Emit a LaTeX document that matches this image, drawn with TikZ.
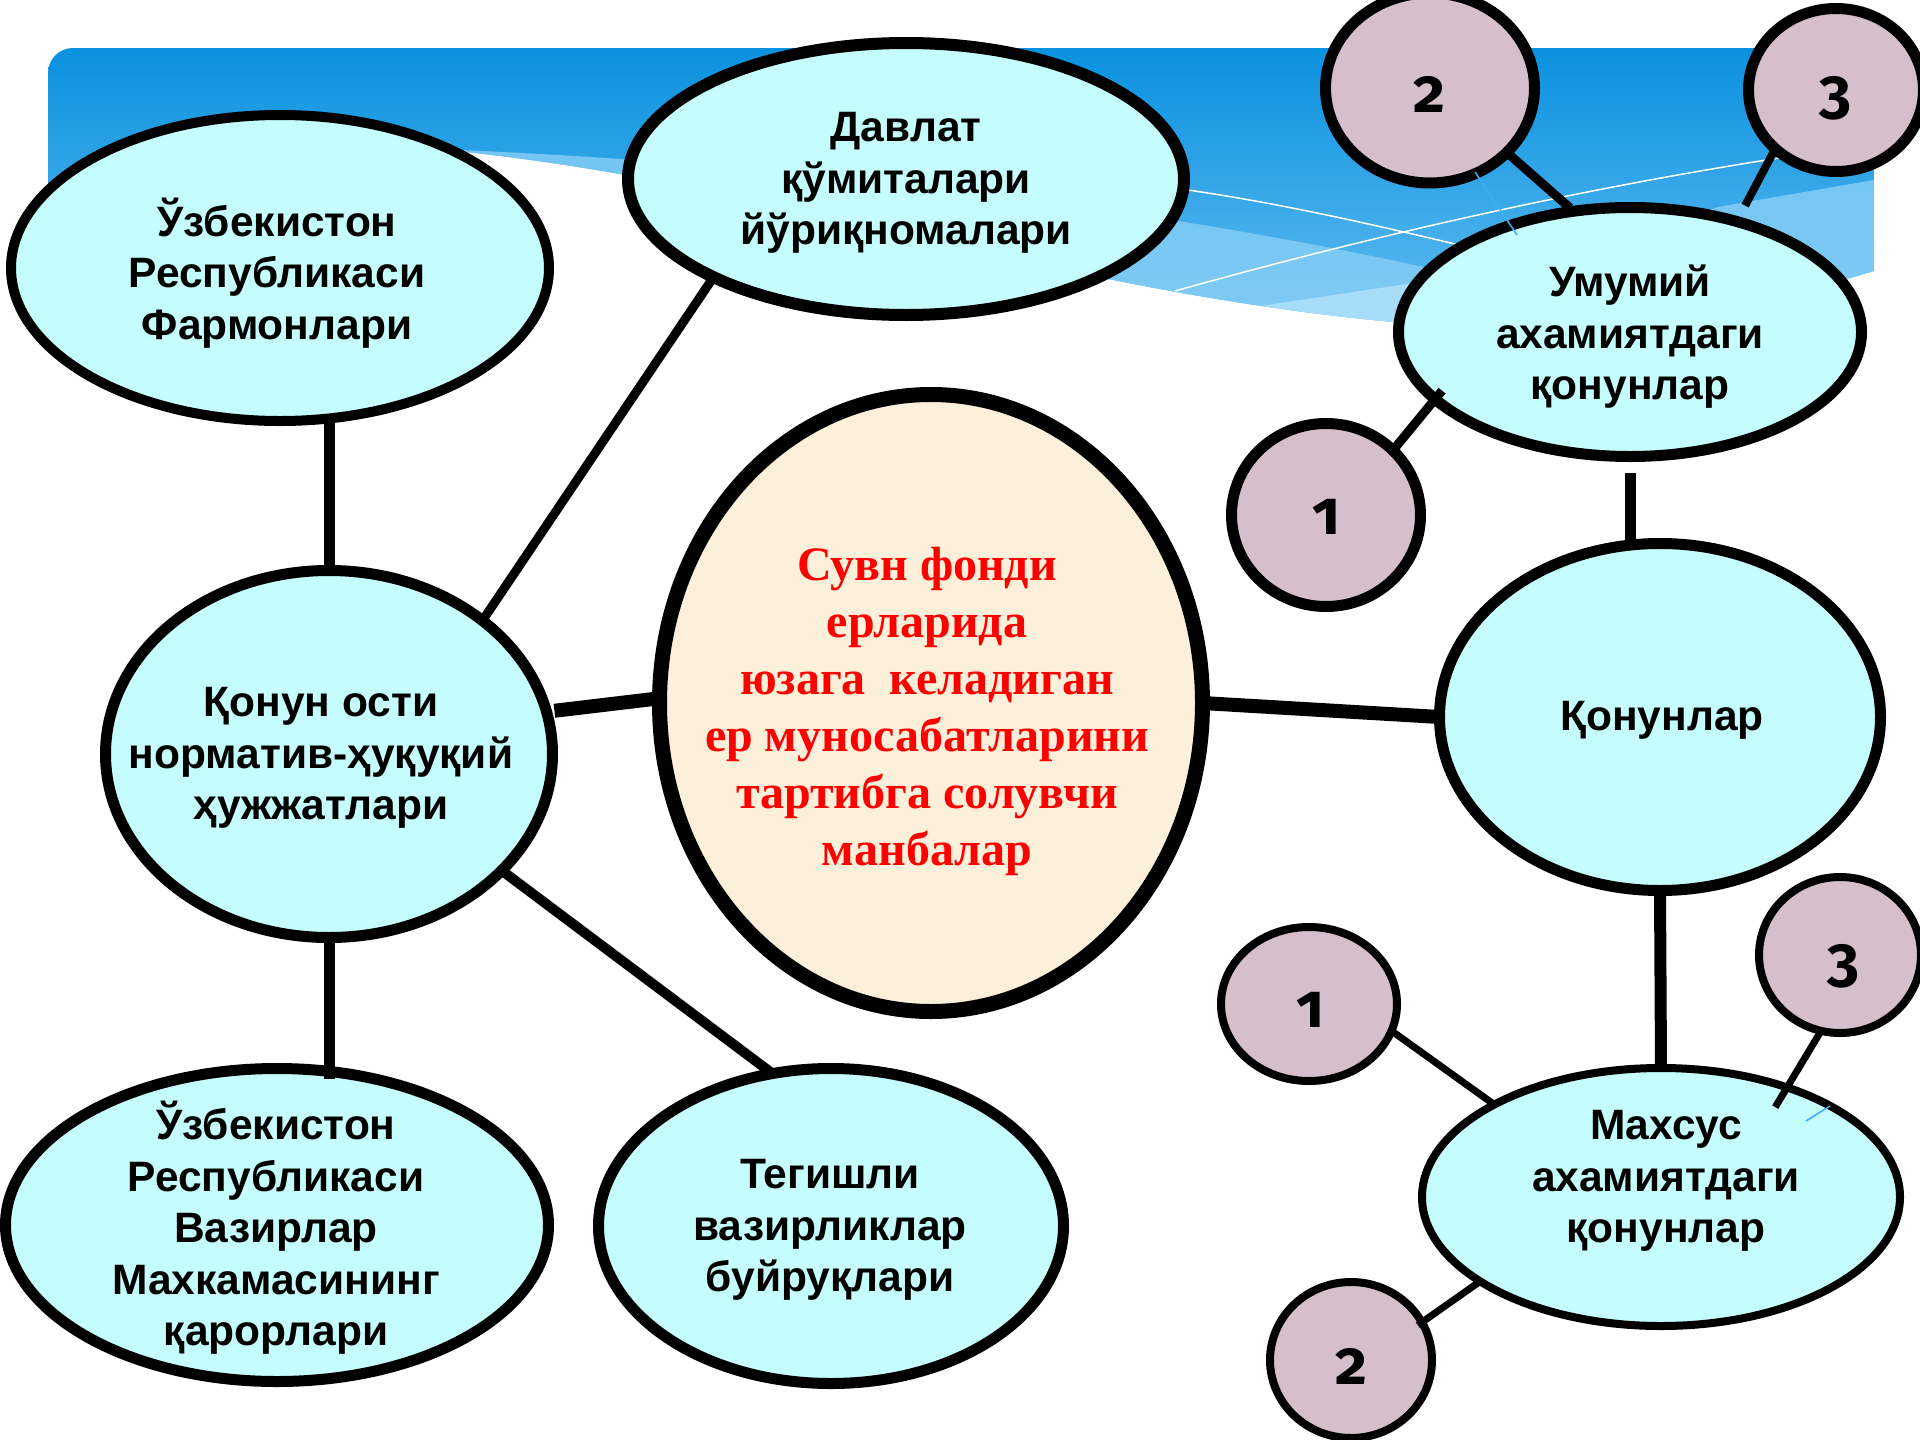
\documentclass[tikz,border=0pt]{standalone}
\usepackage{fontspec}
\usetikzlibrary{shapes.geometric,calc}
\newfontfamily\lsans{Liberation Sans}
\newfontfamily\lserif{Liberation Serif}
\newfontfamily\numfont[Numbers=OldStyle]{Fira Sans}
\definecolor{cyanfill}{RGB}{197,253,253}
\definecolor{mauve}{RGB}{213,191,202}
\definecolor{cream}{RGB}{253,240,218}
\definecolor{skytop}{RGB}{8,144,222}
\definecolor{skybot}{RGB}{100,190,242}
\definecolor{skyband}{RGB}{135,206,246}
\definecolor{skylight}{RGB}{168,221,249}
\definecolor{skyline}{RGB}{60,175,240}
\begin{document}
\begin{tikzpicture}[x=1pt,y=-1pt,
  bub/.style={shape=ellipse, draw=black, fill=cyanfill, inner sep=0pt, outer sep=0pt},
  numc/.style={shape=ellipse, draw=black, fill=mauve, inner sep=0pt, outer sep=0pt},
  hub/.style={shape=ellipse, draw=black, fill=cream, inner sep=0pt, outer sep=0pt},
  txt/.style={font=\lsans\bfseries\fontsize{42.5}{51.5}\selectfont, align=center, inner sep=0pt},
  ctxt/.style={font=\lserif\bfseries\fontsize{48}{57}\selectfont, text=red, align=center, inner sep=0pt},
  numtxt/.style={font=\numfont\bfseries\fontsize{62}{62}\selectfont, inner sep=0pt},
  conn/.style={draw=black, line cap=butt},
]
\useasboundingbox (0,0) rectangle (1920,1440);
\clip (0,0) rectangle (1920,1440);

% background banner
\begin{scope}
\clip (48,200) [rounded corners=25pt] -- (48,48) -- (1874,48) -- (1874,150) [sharp corners] -- (1874,271)
  .. controls (1780,300) and (1620,335) .. (1393,322)
  .. controls (1050,290) and (800,190) .. (475,153)
  .. controls (300,135) and (120,170) .. (48,240) -- cycle;
\path[top color=skytop, bottom color=skybot] (0,40) rectangle (1920,340);
\fill[skyband, opacity=0.8] (460,150) .. controls (800,165) and (1150,205) .. (1460,275)
  .. controls (1560,298) and (1640,225) .. (1723,206) -- (1874,180) -- (1920,180) -- (1920,400) -- (460,400) -- cycle;
\fill[skylight] (1240,309) -- (1420,282) -- (1480,272) -- (1480,400) -- (1240,400) -- cycle;
\draw[white, line width=1.5pt] (1150,185) .. controls (1260,198) and (1380,226) .. (1480,250);
\draw[white, line width=1.5pt] (1175,291) .. controls (1400,228) and (1600,186) .. (1779,158);
\end{scope}

% nodes
\node[bub, line width=10pt, minimum width=538pt, minimum height=306pt] (farm) at (280,268) {};
\node[bub, line width=12pt, minimum width=556pt, minimum height=272pt] (davlat) at (906,179) {};
\node[bub, line width=11pt, minimum width=463pt, minimum height=249pt] (umum) at (1630,332) {};
\node[bub, line width=11pt, minimum width=441pt, minimum height=347pt] (qonunlar) at (1660,717) {};
\node[bub, line width=8pt, minimum width=478pt, minimum height=258pt] (mahsus) at (1661,1197) {};
\node[bub, line width=11pt, minimum width=447pt, minimum height=367pt] (konun) at (329,754) {};
\node[bub, line width=11pt, minimum width=543pt, minimum height=313pt] (vazir) at (277,1225) {};
\node[bub, line width=11pt, minimum width=465pt, minimum height=315pt] (tegish) at (831,1226) {};
\node[hub, line width=15pt, minimum width=543pt, minimum height=617pt] (sv) at (931,703) {};

\node[numc, line width=11pt, minimum width=209pt, minimum height=190pt] (c2t) at (1430,88) {};
\node[numc, line width=11pt, minimum width=175pt, minimum height=163pt] (c3t) at (1836,90) {};
\node[numc, line width=11pt, minimum width=189pt, minimum height=183pt] (c1t) at (1326,515) {};
\node[numc, line width=8pt, minimum width=176pt, minimum height=154pt] (c1b) at (1309,1004) {};
\node[numc, line width=8pt, minimum width=162pt, minimum height=156pt] (c3b) at (1840,955) {};
\node[numc, line width=8pt, minimum width=162pt, minimum height=156pt] (c2b) at (1351,1360) {};

% connectors
\draw[conn, line width=11pt] (konun.north) -- (konun.north |- farm.south);
\draw[conn, line width=9pt] (davlat.207) -- (konun.41);
\draw[conn, line width=14pt, shorten <=8pt] (konun.11) -- (sv.179);
\draw[conn, line width=14pt] (sv.0) -- (qonunlar.180);
\draw[conn, line width=10pt] (konun.326) -- (tegish.111);
\draw[conn, line width=11pt, shorten >=-10pt] (konun.south) -- (konun.south |- vazir.north);
\draw[conn, line width=11pt, shorten <=16pt] (umum.south) -- (umum.south |- qonunlar.north);
\draw[conn, line width=12pt] (qonunlar.south) -- (mahsus.north);
\draw[conn, line width=9pt, shorten >=5pt] (c2t.320) -- (umum.115);
\draw[conn, line width=8pt, shorten >=18pt] (c3t.224) -- (umum.46);
\draw[conn, line width=9pt, shorten >=-11pt] (c1t.44) -- (umum.199);
\draw[conn, line width=7pt] (c1b.342) -- (mahsus.151);
\draw[conn, line width=7pt, shorten >=-23pt] (c3b.256) -- (mahsus.41);
\draw[conn, line width=7pt, shorten <=-5pt] (c2b.28) -- (mahsus.205);

% small blue artefacts
\draw[skyline, line width=1.5pt] (1475,172) -- (1517,235);
\draw[skyline, line width=1.5pt] (1806,1121) -- (1830,1106);

% texts
\node[txt] (tfarm) at (277,273) {Ўзбекистон\\Республикаси\\Фармонлари};
\node[txt] (tdavlat) at (906,183) {Давлат\\қўмиталари\\йўриқномалари};
\node[txt] (tumum) at (1630,337) {Умумий\\ахамиятдаги\\қонунлар};
\node[txt] (tqonun) at (1662,720) {Қонунлар};
\node[txt] (tmahsus) at (1666,1181) {Махсус\\ахамиятдаги\\қонунлар};
\node[txt] (tkonun) at (321,758) {Қонун ости\\норматив-ҳуқуқий\\ҳужжатлари};
\node[txt] (tvazir) at (276,1228) {Ўзбекистон\\Республикаси\\Вазирлар\\Махкамасининг\\қарорлари};
\node[txt] (tteg) at (830,1230) {Тегишли\\вазирликлар\\буйруқлари};
\node[ctxt] (tsv) at (927,711) {Сувн фонди\\ерларида\\юзага\ \ келадиган\\ер муносабатларини\\тартибга солувчи\\манбалар};

\node[numtxt] (n2t) at (1430,94) {2};
\node[numtxt] (n3t) at (1835,98) {3};
\node[numtxt] (n1t) at (1326,517) {1};
\node[numtxt] (n1b) at (1310,1010) {1};
\node[numtxt] (n3b) at (1843,966) {3};
\node[numtxt] (n2b) at (1352,1366) {2};
\end{tikzpicture}
\end{document}
